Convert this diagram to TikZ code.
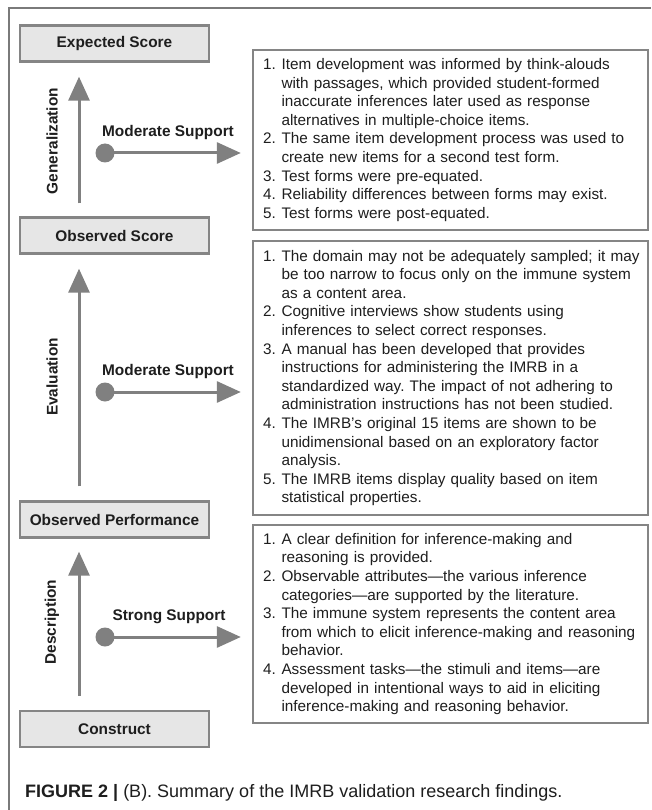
\documentclass[tikz,border=0pt]{standalone}
\usepackage{fontspec}
\setmainfont{Liberation Sans}
\usetikzlibrary{arrows.meta,calc}
\definecolor{frameg}{HTML}{7A7A7A}
\definecolor{boxg}{HTML}{858585}
\definecolor{fillg}{HTML}{E6E6E6}
\definecolor{arrg}{HTML}{808080}
\definecolor{txt}{HTML}{1E1E1E}
\newcommand\itm[2]{\makebox[18.5pt][l]{#1}\mbox{#2}}
\newcommand\cnt[1]{\hspace*{18.5pt}\mbox{#1}}
\frenchspacing
\begin{document}
\begin{tikzpicture}[x=1pt,y=-1pt,
  stage/.style={draw=boxg, line width=2.4pt, fill=fillg, minimum width=189pt,
    minimum height=36pt, inner sep=0pt,
    font=\fontsize{15.4}{18.6}\selectfont\bfseries, text=txt},
  findings/.style={draw=boxg, line width=2.4pt, fill=white, text width=375pt,
    inner xsep=10pt, inner ysep=0pt, align=left,
    font=\fontsize{15.3}{18.6}\selectfont\frenchspacing, text=txt},
  vArrow/.style={draw=arrg, line width=3pt, -{Triangle[length=24pt,width=21pt]}, arrg},
  hArrow/.style={draw=arrg, line width=3pt, -{Triangle[length=24pt,width=21pt]}, arrg},
  dot/.style={circle, fill=arrg, minimum size=19pt, inner sep=0pt},
  support/.style={font=\fontsize{15.4}{18.6}\selectfont\bfseries, text=txt, inner sep=0pt},
  phase/.style={font=\fontsize{15.4}{18.6}\selectfont\bfseries, text=txt, rotate=90, inner sep=0pt},
  caption/.style={font=\fontsize{18}{22}\selectfont\frenchspacing, text=txt, inner sep=0pt, anchor=west}
]
\useasboundingbox (0,0) rectangle (651,810);
\fill[white] (0,0) rectangle (651,810);
% frame
\draw[frameg, line width=1.5pt] (9,810) -- (9,8) -- (651,8);

\coordinate (ax) at (79,0);

% stages
\node[stage] (exp) at (114.5,43.5) {Expected Score};
\node[stage] (obs) at (114.5,235.5) {Observed Score};
\node[stage] (perf) at (114.5,519.5) {Observed Performance};
\node[stage] (con) at (114.5,729) {Construct};

% findings boxes
\node[findings, minimum height=180pt] (f1) at (450.5,140) {%
\itm{1.}{Item development was informed by think-alouds}\\
\cnt{with passages, which provided student-formed}\\
\cnt{inaccurate inferences later used as response}\\
\cnt{alternatives in multiple-choice items.}\\
\itm{2.}{The same item development process was used to}\\
\cnt{create new items for a second test form.}\\
\itm{3.}{Test forms were pre-equated.}\\
\itm{4.}{Reliability differences between forms may exist.}\\
\itm{5.}{Test forms were post-equated.}};

\node[findings, minimum height=274pt] (f2) at (450.5,378) {%
\itm{1.}{The domain may not be adequately sampled; it may}\\
\cnt{be too narrow to focus only on the immune system}\\
\cnt{as a content area.}\\
\itm{2.}{Cognitive interviews show students using}\\
\cnt{inferences to select correct responses.}\\
\itm{3.}{A manual has been developed that provides}\\
\cnt{instructions for administering the IMRB in a}\\
\cnt{standardized way. The impact of not adhering to}\\
\cnt{administration instructions has not been studied.}\\
\itm{4.}{The IMRB’s original 15 items are shown to be}\\
\cnt{unidimensional based on an exploratory factor}\\
\cnt{analysis.}\\
\itm{5.}{The IMRB items display quality based on item}\\
\cnt{statistical properties.}};

\node[findings, minimum height=198pt] (f3) at (450.5,624) {%
\itm{1.}{A clear definition for inference-making and}\\
\cnt{reasoning is provided.}\\
\itm{2.}{Observable attributes—the various inference}\\
\cnt{categories—are supported by the literature.}\\
\itm{3.}{The immune system represents the content area}\\
\cnt{from which to elicit inference-making and reasoning}\\
\cnt{behavior.}\\
\itm{4.}{Assessment tasks—the stimuli and items—are}\\
\cnt{developed in intentional ways to aid in eliciting}\\
\cnt{inference-making and reasoning behavior.}};

% vertical arrows
\draw[vArrow, shorten <=13pt, shorten >=14pt] (obs.north -| ax) -- (exp.south -| ax);
\draw[vArrow, shorten <=14pt, shorten >=14pt] (perf.north -| ax) -- (obs.south -| ax);
\draw[vArrow, shorten <=14pt, shorten >=13pt] (con.north -| ax) -- (perf.south -| ax);

\node[phase] (pg) at (52,141) {Generalization};
\node[phase] (pe) at (52,377) {Evaluation};
\node[phase] (pd) at (52,622) {Description};

% horizontal arrows
\node[dot] (d1) at (105,153) {};
\node[dot] (d2) at (105,392) {};
\node[dot] (d3) at (105,637) {};
\draw[hArrow, shorten >=11pt] (d1.center) -- (f1.west |- d1);
\draw[hArrow, shorten >=11pt] (d2.center) -- (f2.west |- d2);
\draw[hArrow, shorten >=11pt] (d3.center) -- (f3.west |- d3);

\node[support] (s1) at (168,133) {Moderate Support};
\node[support] (s2) at (168,372) {Moderate Support};
\node[support] (s3) at (169,617) {Strong Support};

% caption
\node[caption] (cap) at (25,793) {\textbf{FIGURE 2 |} (B). Summary of the IMRB validation research findings.};
\end{tikzpicture}
\end{document}
